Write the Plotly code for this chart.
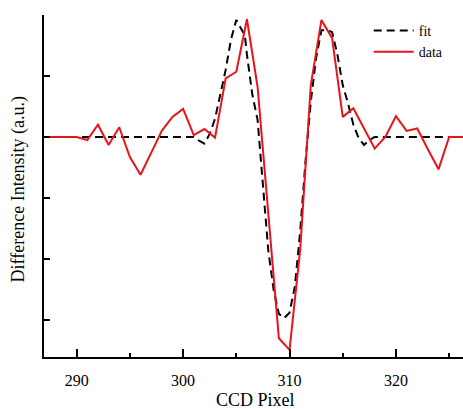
import plotly.graph_objects as go

# Measured data (CCD pixel vs difference intensity, arbitrary units)
data_x = list(range(287, 328))
data_y = [0, 0, 0, 0, -0.05, 0.2, -0.13, 0.16, -0.33, -0.62,
          -0.26, 0.1, 0.33, 0.46, 0.03, 0.13, -0.01, 0.96, 1.07, 1.93,
          0.82, -1.3, -3.3, -3.49, -1.85, 0.85, 1.92, 1.62, 0.33, 0.47,
          0.14, -0.19, 0.0, 0.34, 0.1, 0.14, -0.2, -0.53, 0, 0, 0]

# Fit curve
fit_x = [290.5, 301, 301.5, 302, 302.5, 303, 303.5, 304, 304.5, 305,
         305.4, 305.8, 306, 306.5, 307, 307.5, 308, 308.5, 309, 309.5,
         310, 310.5, 311, 311.5, 312, 312.5, 313, 313.5, 314, 314.5,
         315, 315.5, 316, 316.5, 317, 317.5, 318, 327]
fit_y = [0, 0, -0.06, -0.11, 0.05, 0.3, 0.7, 1.1, 1.6, 1.92,
         1.79, 1.67, 1.35, 0.7, 0.28, -0.75, -1.85, -2.5, -2.9, -2.97,
         -2.88, -2.45, -1.55, -0.4, 0.58, 1.3, 1.75, 1.75, 1.72, 1.35,
         0.85, 0.55, 0.2, -0.02, -0.13, -0.05, 0, 0]

x_ticks = [290, 300, 310, 320]
y_ticks = [-3, -2, -1, 0, 1, 2]
x_title = "CCD Pixel"
y_title = "Difference Intensity (a.u.)"

FONT = "Liberation Serif, Times New Roman, serif"

fig = go.Figure()
fig.add_trace(go.Scatter(x=fit_x, y=fit_y, mode="lines", name="fit",
                         line=dict(color="black", width=2, dash="8px,5px")))
fig.add_trace(go.Scatter(x=data_x, y=data_y, mode="lines", name="data",
                         line=dict(color="#e8141c", width=2)))

fig.update_layout(
    width=463, height=409,
    margin=dict(l=44, r=0, t=15, b=52, autoexpand=False),
    plot_bgcolor="white", paper_bgcolor="white",
    font=dict(family=FONT, color="black", size=16),
    showlegend=True,
    legend=dict(x=0.775, y=1.0, xanchor="left", yanchor="top",
                bgcolor="rgba(0,0,0,0)", font=dict(size=14, family=FONT),
                itemwidth=40, tracegroupgap=0),
    xaxis=dict(range=[286.93, 326.3], tickvals=x_ticks,
               ticktext=[str(v) for v in x_ticks],
               ticks="inside", ticklen=8, tickwidth=2, tickcolor="black",
               minor=dict(dtick=5, tick0=285, ticks="inside", ticklen=4,
                          tickwidth=2, tickcolor="black"),
               showline=True, linecolor="black", linewidth=2,
               showgrid=False, zeroline=False, automargin=False,
               tickfont=dict(size=16, family=FONT),
               ticklabelstandoff=8),
    yaxis=dict(range=[-3.607, 2.0], tickvals=y_ticks,
               showticklabels=False, automargin=False,
               ticks="inside", ticklen=6, tickwidth=2, tickcolor="black",
               showline=True, linecolor="black", linewidth=2,
               showgrid=False, zeroline=False),
    annotations=[
        dict(text=x_title, xref="paper", yref="paper", x=0.5036, y=-0.125,
             xanchor="center", yanchor="middle", showarrow=False,
             font=dict(size=18, family=FONT)),
        dict(text=y_title, xref="paper", yref="paper", x=-0.0597, y=0.4927,
             xanchor="center", yanchor="middle", showarrow=False,
             textangle=-90, font=dict(size=18, family=FONT)),
    ],
)

fig.write_html("out.html",
               config={"displayModeBar": False},
               post_script="document.body.style.margin='0';"
                           "document.body.style.overflow='hidden';")
